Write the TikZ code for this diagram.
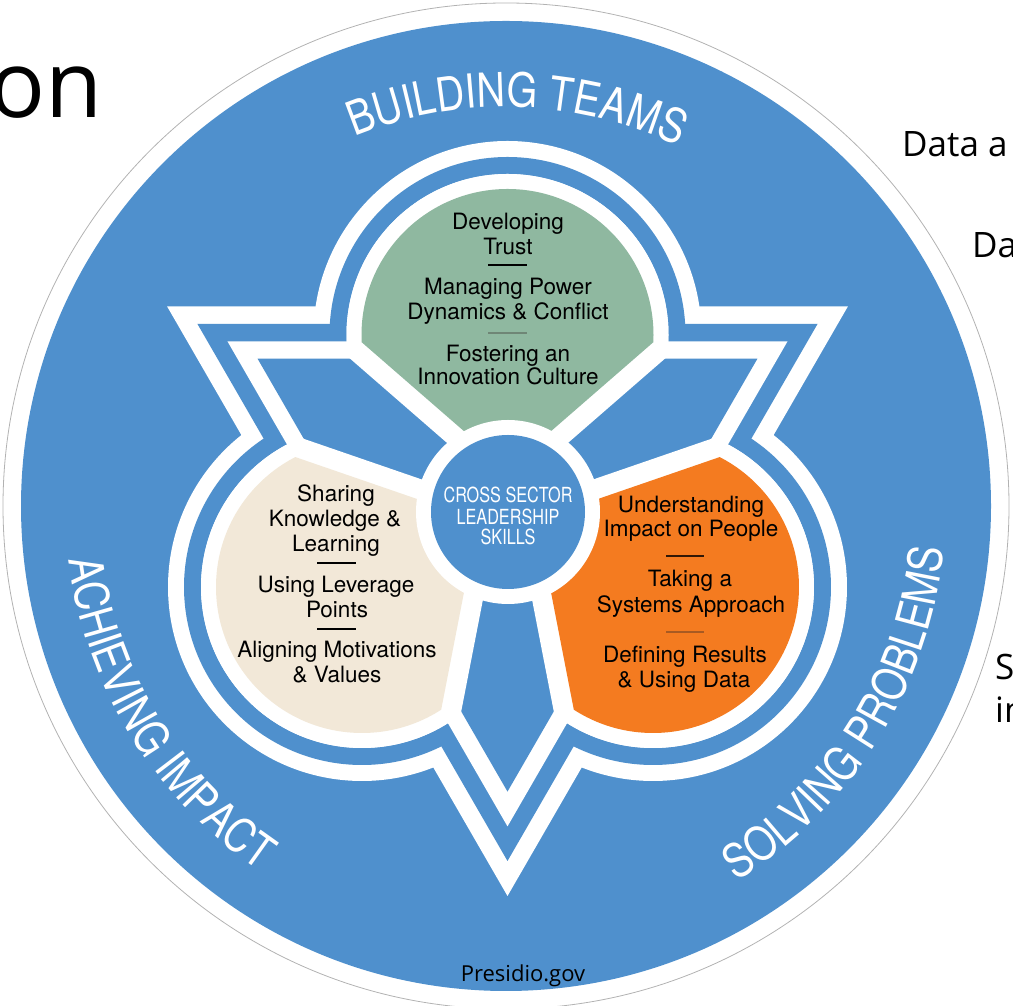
\documentclass[tikz,border=0pt]{standalone}
\usepackage{fontspec}
\setmainfont{Open Sans}
\newfontfamily\lobefont{TeX Gyre Heros}
\newfontfamily\centerfont[FakeStretch=0.78]{TeX Gyre Heros}
\newfontfamily\arcfont[FakeStretch=0.84]{TeX Gyre Heros}
\usetikzlibrary{calc,decorations.text}
\definecolor{diskblue}{HTML}{4F90CD}
\definecolor{lobegreen}{HTML}{8FB8A0}
\definecolor{lobebeige}{HTML}{F2E8D8}
\definecolor{lobeorange}{HTML}{F47B20}
\definecolor{sepgray}{HTML}{6F8676}
\definecolor{sepbrown}{HTML}{A85A22}
\begin{document}
\begin{tikzpicture}[x=1pt,y=1pt,
  lobetext/.style={font=\lobefont\fontsize{22.5}{25}\selectfont, text=black, inner sep=0pt, anchor=base},
  hubtext/.style={font=\centerfont\fontsize{20.8}{22}\selectfont, text=white, inner sep=0pt, anchor=base},
  slidetext/.style={font=\fontsize{35}{40}\selectfont, text=black, inner sep=0pt, anchor=base west},
  sepline/.style={line width=1.6pt},
  arctext/.style={decorate, decoration={text along path, text align=center, text color=white, text={|\arcfont\fontsize{47}{50}\selectfont\color{white}|#1}}}
]
\useasboundingbox (0,0) rectangle (1013,1006);
\clip (0,0) rectangle (1013,1006);
\coordinate (C) at (507.5,503);
\coordinate (D) at (506,500);
\coordinate (H) at (508,494);
\coordinate (Lg) at ($(C)+(90:168)$);
\coordinate (Lb) at ($(C)+(210:168)$);
\coordinate (Lo) at ($(C)+(330:168)$);

% outer rim and disk
\draw[gray!60, line width=0.8pt] (D) circle[radius=503];
\fill[diskblue] (D) circle[radius=485];

% layer 1 (white)
\fill[white] ($(C)+(150:393)$) -- ($(C)+(30:393)$) -- ($(C)+(270:393)$) -- cycle;
\foreach \p in {Lg,Lb,Lo} \fill[white] (\p) circle[radius=194];
% layer 2 (blue)
\fill[diskblue] ($(C)+(150:358)$) -- ($(C)+(30:358)$) -- ($(C)+(270:358)$) -- cycle;
\foreach \p in {Lg,Lb,Lo} \fill[diskblue] (\p) circle[radius=178];
% layer 3 (white)
\fill[white] ($(C)+(150:323.4)$) -- ($(C)+(30:323.4)$) -- ($(C)+(270:323.4)$) -- cycle;
\foreach \p in {Lg,Lb,Lo} \fill[white] (\p) circle[radius=161];
% layer 4 (blue wedges)
\fill[diskblue] ($(C)+(150:288.6)$) -- ($(C)+(30:288.6)$) -- ($(C)+(270:288.6)$) -- cycle;

% lobes
\foreach \ang/\col in {90/lobegreen,210/lobebeige,330/lobeorange}{
  \coordinate (W) at ($(C)+(\ang:7.5)$);
  \coordinate (A) at ($(C)+(\ang:34)$);
  \coordinate (L) at ($(C)+(\ang:168)$);
  \begin{scope}
    \clip (W) -- ($(W)+(\ang+49:700)$) -- ($(W)+(\ang-49:700)$) -- cycle;
    \fill[white] (L) circle[radius=161];
  \end{scope}
  \begin{scope}
    \clip (A) -- ($(A)+(\ang+49:700)$) -- ($(A)+(\ang-49:700)$) -- cycle;
    \fill[\col] (L) circle[radius=146];
  \end{scope}
}

% hub
\fill[white] (H) circle[radius=92];
\fill[diskblue] (H) circle[radius=77];
\node[hubtext] (hub1) at (508,503) {CROSS SECTOR};
\node[hubtext] (hub2) at (508,481) {LEADERSHIP};
\node[hubtext] (hub3) at (508,461) {SKILLS};

% green lobe text
\node[lobetext] (g1) at (508,776) {Developing};
\node[lobetext] (g2) at (508,751) {Trust};
\node[lobetext] (g3) at (508,711) {Managing Power};
\node[lobetext] (g4) at (508,686) {Dynamics \& Conflict};
\node[lobetext] (g5) at (508,644) {Fostering an};
\node[lobetext] (g6) at (508,621) {Innovation Culture};
\draw[sepline, black] (488,741) -- (527,741);
\draw[sepline, sepgray] (488,673) -- (527,673);

% beige lobe text
\node[lobetext] (b1) at (336,504) {Sharing};
\node[lobetext] (b2) at (335,479) {Knowledge \&};
\node[lobetext] (b3) at (336,454) {Learning};
\node[lobetext] (b4) at (336,413) {Using Leverage};
\node[lobetext] (b5) at (337,388) {Points};
\node[lobetext] (b6) at (337,348) {Aligning Motivations};
\node[lobetext] (b7) at (337,323) {\& Values};
\draw[sepline, black] (317,443) -- (356,443);
\draw[sepline, black] (317,377) -- (356,377);

% orange lobe text
\node[lobetext] (o1) at (691,493) {Understanding};
\node[lobetext] (o2) at (691,469) {Impact on People};
\node[lobetext] (o3) at (690,419) {Taking a};
\node[lobetext] (o4) at (691,393) {Systems Approach};
\node[lobetext] (o5) at (685,343) {Defining Results};
\node[lobetext] (o6) at (684,318) {\& Using Data};
\draw[sepline, black!80!lobeorange] (666,450) -- (704,450);
\draw[sepline, sepbrown] (666,374) -- (704,374);

% arc labels
\path[arctext={BUILDING TEAMS}] ($(D)+(128.4:399)$) arc[start angle=128.4, end angle=48.4, radius=399];
\path[arctext={SOLVING PROBLEMS}] ($(D)+(-72:440)$) arc[start angle=-72, end angle=8, radius=440];
\path[arctext={ACHIEVING IMPACT}] ($(D)+(171.5:440)$) arc[start angle=171.5, end angle=251.5, radius=440];

% slide texts
\node[font=\fontsize{93}{100}\selectfont, text=black, inner sep=0pt, anchor=base east] (ttl) at (103,888) {on};
\node[slidetext] (s1) at (902,849) {Data a};
\node[slidetext] (s2) at (972,748) {Da};
\node[slidetext] (s3) at (995,326) {S};
\node[slidetext] (s4) at (995,283) {in};
\node[font=\fontsize{22}{24}\selectfont, text=black, inner sep=0pt, anchor=base] (src) at (523,24) {Presidio.gov};
\end{tikzpicture}
\end{document}
